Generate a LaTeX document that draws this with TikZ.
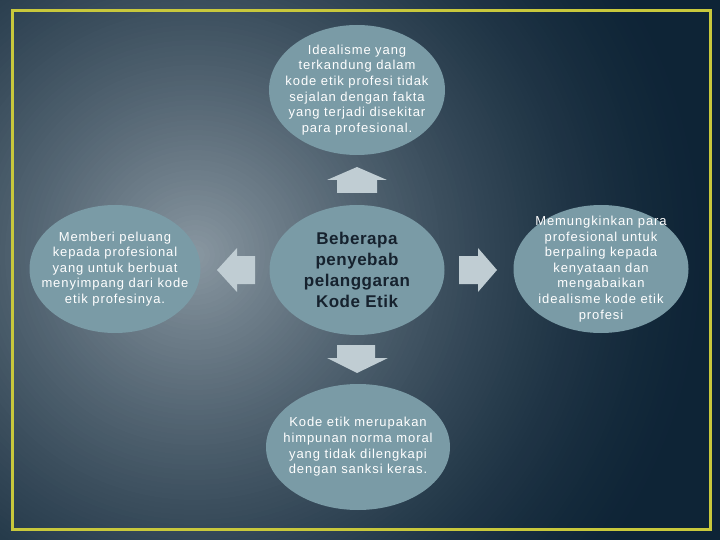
\documentclass[tikz,border=0pt]{standalone}
\usepackage{fontspec}
\setmainfont{Liberation Sans}
\newfontfamily\ovalfont[LetterSpace=7]{Liberation Sans}
\newfontfamily\centerfont[LetterSpace=3]{Liberation Sans}
\usetikzlibrary{shapes.geometric}
\definecolor{bgdark}{RGB}{14,36,54}
\definecolor{bglight}{RGB}{138,152,162}
\definecolor{ellfill}{RGB}{122,155,166}
\definecolor{arrfill}{RGB}{192,205,211}
\definecolor{frameyel}{RGB}{200,200,60}
\definecolor{centertxt}{RGB}{22,34,46}
\tikzset{
  oval/.style={ellipse, fill=ellfill, inner sep=0pt},
  ovaltext/.style={inner sep=0pt, align=center, text=white,
    font=\ovalfont\fontsize{13}{15.6}\selectfont},
  blockarrow/.style={fill=arrfill, draw=none},
}
\begin{document}
\begin{tikzpicture}[x=1pt,y=-1pt]
\useasboundingbox (0,0) rectangle (720,540);
\fill[bgdark] (0,0) rectangle (720,540);
\begin{scope}
\clip (0,0) rectangle (720,540);
\foreach \i in {0,...,104}{
  \pgfmathsetmacro{\rr}{520-5*\i}
  \pgfmathsetmacro{\pp}{100*(\i/104)^1.5}
  \fill[bglight!\pp!bgdark] (195,255) circle (\rr);
}
\end{scope}
\draw[frameyel, line width=3pt] (12.5,10.5) rectangle (710,529.5);

\node[oval, minimum width=176pt, minimum height=130pt] (top) at (357,90) {};
\node[ovaltext] (toptxt) at (top.center)
  {Idealisme yang\\terkandung dalam\\kode etik profesi tidak\\sejalan dengan fakta\\yang terjadi disekitar\\para profesional.};
\node[oval, minimum width=171pt, minimum height=128pt] (left) at (115,269) {};
\node[ovaltext] (lefttxt) at (left.center)
  {Memberi peluang\\kepada profesional\\yang untuk berbuat\\menyimpang dari kode\\etik profesinya.};
\node[oval, minimum width=175pt, minimum height=130pt] (center) at (357,270) {};
\node[ovaltext, text=centertxt, font=\centerfont\fontsize{17}{21}\selectfont\bfseries] (centertxt) at (center.center)
  {Beberapa\\penyebab\\pelanggaran\\Kode Etik};
\node[oval, minimum width=175pt, minimum height=128pt] (right) at (601,269) {};
\node[ovaltext] (righttxt) at (right.center)
  {Memungkinkan para\\profesional untuk\\berpaling kepada\\kenyataan dan\\mengabaikan\\idealisme kode etik\\profesi};
\node[oval, minimum width=184pt, minimum height=126pt] (bottom) at (358,447) {};
\node[ovaltext] (bottomtxt) at (bottom.center)
  {Kode etik merupakan\\himpunan norma moral\\yang tidak dilengkapi\\dengan sanksi keras.};

% block arrows
\fill[blockarrow] (337,193) -- (377,193) -- (377,180) -- (387,180) -- (357,167) -- (327,180) -- (337,180) -- cycle;
\fill[blockarrow] (337,345) -- (375,345) -- (375,358) -- (388,358) -- (357,373) -- (327,358) -- (337,358) -- cycle;
\fill[blockarrow] (255,256) -- (237,256) -- (237,248) -- (217,270) -- (237,292) -- (237,284) -- (255,284) -- cycle;
\fill[blockarrow] (459,256) -- (478,256) -- (478,248) -- (497,270) -- (478,292) -- (478,284) -- (459,284) -- cycle;
\end{tikzpicture}
\end{document}
